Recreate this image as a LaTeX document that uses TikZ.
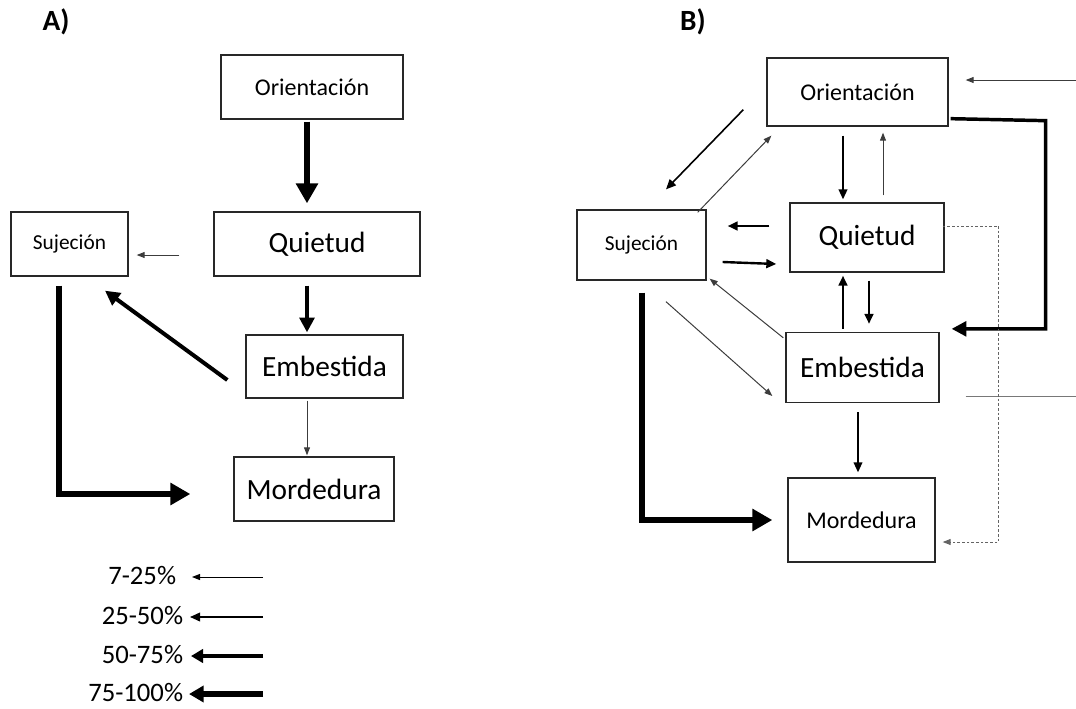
\documentclass[tikz,border=0pt]{standalone}
\usepackage{fontspec}
\setmainfont{Carlito}
\usetikzlibrary{arrows.meta,calc}

\tikzset{every picture/.style={line width=0.75pt}}
\tikzset{
  box/.style={draw={rgb,255:red,40;green,40;blue,40},line width=1pt,inner sep=0pt,align=center},
  txtS/.style={font=\fontsize{16}{18}\selectfont},
  txtM/.style={font=\fontsize{18}{20}\selectfont},
  txtL/.style={font=\fontsize{22}{24}\selectfont},
  pA/.style={line width=0.75pt,draw={rgb,255:red,60;green,60;blue,60},-{Triangle[length=6pt,width=4.5pt]}},
  pB/.style={line width=1.4pt,-{Triangle[length=7.5pt,width=6.5pt]}},
  pC/.style={line width=3pt,-{Triangle[length=11pt,width=11pt]}},
  pD/.style={line width=4.5pt,-{Triangle[length=15pt,width=16pt]}},
}

\begin{document}
\begin{tikzpicture}[x=0.75pt,y=0.75pt,yscale=-1,xscale=1]
\useasboundingbox (0,0) rectangle (1076,708);

% Panel labels
\node (labA) at (56,22) {\fontsize{22}{24}\selectfont\bfseries A)};
\node (labB) at (693,22) {\fontsize{22}{24}\selectfont\bfseries B)};

%Shape: Rectangle -- panel A
\node [box,txtM,minimum width=136.5pt,minimum height=48pt] (oriA) at (312,87) {Orientación};
\node [box,txtL,minimum width=154.5pt,minimum height=48pt] (quiA) at (317,244) {Quietud};
\node [box,txtS,minimum width=87.75pt,minimum height=48pt] (sujA) at (69.5,244) {Sujeción};
\node [box,txtL,minimum width=117.75pt,minimum height=47.25pt] (embA) at (324.5,366.5) {Embestida};
\node [box,txtL,minimum width=120pt,minimum height=48pt] (morA) at (314,489) {Mordedura};

%Straight Lines -- panel A
\draw [pD] ($(oriA.south)+(-5,2)$) -- ($(quiA.north)+(-10,-8)$);
\draw [pA] ($(quiA.west)+(-34,11)$) -- ($(sujA.east)+(8,11)$);
\draw [pC] ($(quiA.south)+(-10,9)$) -- ($(embA.north)+(-17.5,-2)$);
\draw [pC] ($(embA.west)+(-18,13.5)$) -- ($(sujA.south)+(35.5,14)$);
\draw [pA] ($(embA.south)+(-17.5,2)$) -- ($(morA.north)+(-7,-1)$);
\draw [pD] ($(sujA.south)+(-10.5,9)$) |- ($(morA.west)+(-43,5)$);

% Legend
\node [anchor=east,font=\fontsize{20}{22}\selectfont] (leg1) at (181,576) {7-25\%};
\node [anchor=east,font=\fontsize{20}{22}\selectfont] (leg2) at (188,616) {25-50\%};
\node [anchor=east,font=\fontsize{20}{22}\selectfont] (leg3) at (188,655) {50-75\%};
\node [anchor=east,font=\fontsize{20}{22}\selectfont] (leg4) at (188,693) {75-100\%};
\coordinate (l1) at (263,577);
\coordinate (l2) at (263,617);
\coordinate (l3) at (263,656);
\coordinate (l4) at (263,694);
\draw [pA,draw=black] (l1) -- ($(leg1.east)+(11,1)$);
\draw [pB,line width=1.2pt] (l2) -- ($(leg2.east)+(2,1)$);
\draw [pC,-{Triangle[length=9pt,width=10pt]}] (l3) -- ($(leg3.east)+(3,1)$);
\draw [pD,-{Triangle[length=11pt,width=12pt]}] (l4) -- ($(leg4.east)+(1,1)$);

%Shape: Rectangle -- panel B
\node [box,txtM,minimum width=135.75pt,minimum height=51pt] (oriB) at (857.5,92) {Orientación};
\node [box,txtL,minimum width=115.5pt,minimum height=51.75pt] (quiB) at (867,237.5) {Quietud};
\node [box,txtS,minimum width=96.75pt,minimum height=52.5pt] (sujB) at (641.5,245) {Sujeción};
\node [box,txtL,minimum width=114.75pt,minimum height=52.5pt] (embB) at (862.5,367.5) {Embestida};
\node [box,txtM,minimum width=110.25pt,minimum height=63pt] (morB) at (861.5,520) {Mordedura};

% free ends at the right border
\coordinate (inR) at (1076,80);
\coordinate (outR) at (1076,396);

%Straight Lines -- panel B
\draw [pB,line width=1.2pt] ($(oriB.south west)+(-23,-17)$) -- ($(sujB.north)+(24.5,-20)$);
\draw [pA] ($(sujB.north east)+(-9,3)$) -- ($(oriB.south west)+(5,9)$);
\draw [pB] ($(oriB.south)+(-14.5,9)$) -- ($(quiB.north)+(-24,-3)$);
\draw [pA] ($(quiB.north)+(16,-7)$) -- ($(oriB.south)+(25.5,6)$);
\draw [pB,line width=1.8pt] ($(quiB.west)+(-20,-11.5)$) -- ($(sujB.east)+(21,-19)$);
\draw [pB,line width=1.8pt] ($(sujB.east)+(16,17)$) -- ($(quiB.west)+(-13,26.5)$);
\draw [pA] ($(embB.north west)+(-2,6)$) -- ($(sujB.south east)+(3,-2)$);
\draw [pA] ($(sujB.south)+(24.5,21)$) -- ($(embB.west)+(-13,28.5)$);
\draw [pB,line width=1.8pt] ($(embB.north)+(-19.5,-3)$) -- ($(quiB.south)+(-24,3)$);
\draw [pB,line width=1.8pt] ($(quiB.south)+(2,8)$) -- ($(embB.north)+(6.5,-8)$);
\draw [pB,line width=1.2pt] ($(embB.south)+(-4.5,9)$) -- ($(morB.north)+(-3.5,-5)$);
\draw [pD] ($(sujB.south)+(0,12)$) |- ($(morB.west)+(-15,0)$);
\draw [pC,line width=2.6pt] ($(oriB.south east)+(2,-8)$) -- ++(95,2) |- ($(embB.north east)+(12,-3)$);
\draw [pA] (inR) -- ($(oriB.east)+(17,-12)$);
\draw [line width=0.75pt,draw={rgb,255:red,120;green,120;blue,120}] ($(embB.east)+(26,28.5)$) -- (outR);
\draw [pA,dashed,dash pattern=on 2pt off 1.5pt,draw={rgb,255:red,100;green,100;blue,100}] ($(quiB.east)+(-2,-11.5)$) -- ++(56,0) |- ($(morB.east)+(7,22)$);

\end{tikzpicture}
\end{document}
